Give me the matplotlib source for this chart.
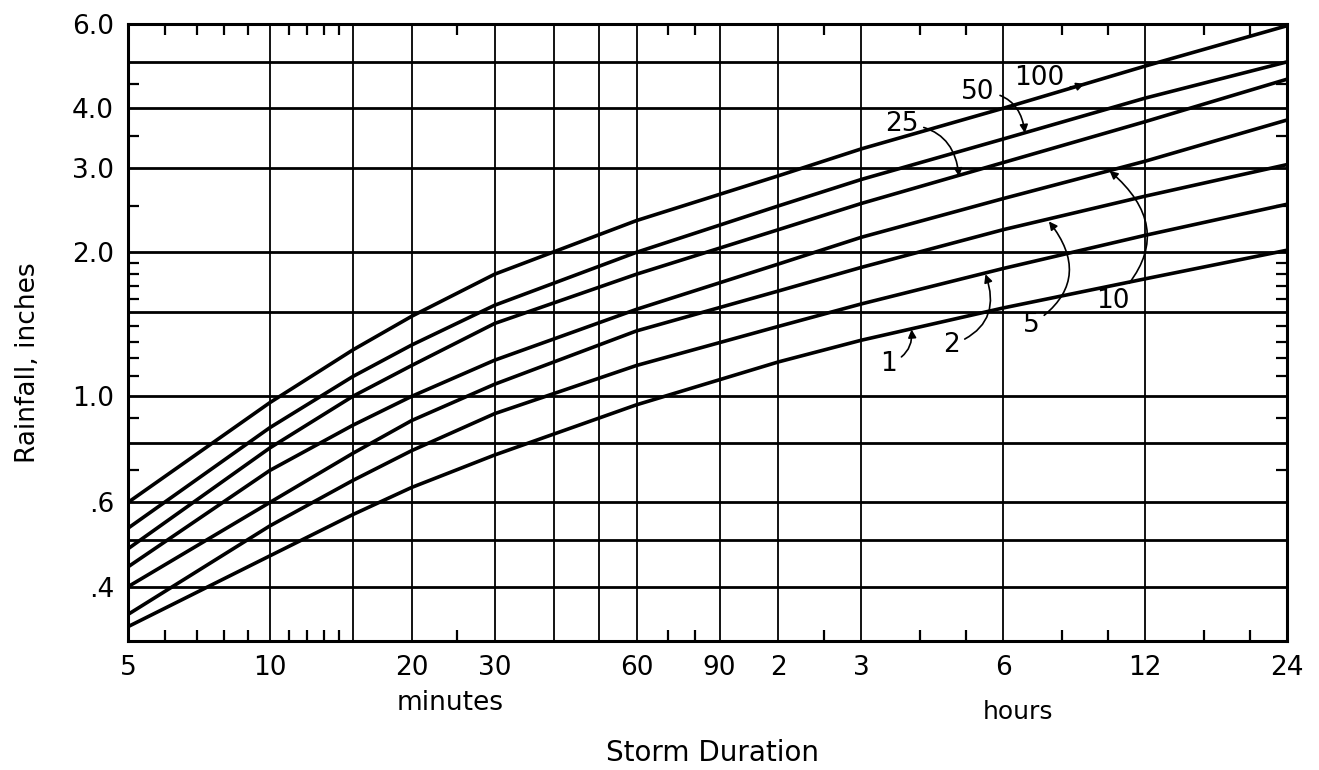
import matplotlib
matplotlib.use("Agg")
import matplotlib.pyplot as plt
from matplotlib.ticker import FixedLocator, NullFormatter

# storm duration, minutes
durations = [5, 10, 15, 20, 30, 60, 120, 180, 360, 720, 1440]

# rainfall depth (inches) for each return period (years)
rain_1yr = [0.33, 0.464, 0.566, 0.645, 0.754, 0.96, 1.18, 1.31, 1.53, 1.76, 2.02]
rain_2yr = [0.35, 0.536, 0.667, 0.77, 0.92, 1.16, 1.40, 1.56, 1.85, 2.17, 2.52]
rain_5yr = [0.40, 0.60, 0.76, 0.89, 1.06, 1.37, 1.66, 1.86, 2.23, 2.62, 3.05]
rain_10yr = [0.44, 0.70, 0.87, 1.00, 1.19, 1.52, 1.89, 2.15, 2.59, 3.10, 3.78]
rain_25yr = [0.48, 0.78, 1.00, 1.16, 1.42, 1.80, 2.23, 2.53, 3.08, 3.75, 4.60]
rain_50yr = [0.53, 0.86, 1.10, 1.28, 1.55, 2.00, 2.50, 2.84, 3.45, 4.20, 5.00]
rain_100yr = [0.60, 0.97, 1.25, 1.47, 1.80, 2.33, 2.89, 3.29, 4.00, 4.90, 5.95]

curves = [rain_1yr, rain_2yr, rain_5yr, rain_10yr, rain_25yr, rain_50yr, rain_100yr]

# grid / tick layout
x_grid = [5, 10, 15, 20, 30, 40, 50, 60, 90, 120, 180, 360, 720, 1440]
x_labels = ['5', '10', '', '20', '30', '', '', '60', '90', '2', '3', '6', '12', '24']
x_minor = [6, 7, 8, 9, 11, 12, 13, 14, 25, 70, 80, 150, 240, 300, 480, 600, 960, 1200]
y_grid = [0.4, 0.5, 0.6, 0.8, 1.0, 1.5, 2.0, 3.0, 4.0, 5.0, 6.0]
y_labels = ['.4', '', '.6', '', '1.0', '', '2.0', '3.0', '4.0', '', '6.0']
y_minor = [0.7, 0.9, 1.1, 1.2, 1.3, 1.4, 1.6, 1.7, 1.8, 1.9, 2.5, 3.5, 4.5]

# curve labels: text, text position, arrow target, arc
curve_labels = [
    ('100', (430, 4.62), (535, 4.50), 0.25),
    ('50', (318, 4.33), (400, 3.55), -0.45),
    ('25', (219, 3.70), (290, 2.88), -0.45),
    ('10', (615, 1.58), (605, 2.96), 0.55),
    ('5', (412, 1.41), (450, 2.32), 0.55),
    ('2', (279, 1.28), (330, 1.80), 0.5),
    ('1', (205, 1.17), (230, 1.38), 0.4),
]

W, H = 1319, 770
fig = plt.figure(figsize=(W / 100, H / 100), dpi=100)
ax = fig.add_axes([128 / W, 1 - 641 / H, 1159 / W, 617 / H])

for vals in curves:
    ax.plot(durations, vals, color='black', lw=2.6, solid_joinstyle='round')

ax.set_xscale('log')
ax.set_yscale('log')
ax.set_xlim(5, 1440)
ax.set_ylim(0.308, 6.0)

ax.xaxis.set_major_locator(FixedLocator(x_grid))
ax.set_xticklabels(x_labels)
ax.xaxis.set_minor_locator(FixedLocator(x_minor))
ax.xaxis.set_minor_formatter(NullFormatter())
ax.yaxis.set_major_locator(FixedLocator(y_grid))
ax.set_yticklabels(y_labels)
ax.yaxis.set_minor_locator(FixedLocator(y_minor))
ax.yaxis.set_minor_formatter(NullFormatter())

ax.xaxis.grid(True, which='major', color='black', lw=1.3)
ax.yaxis.grid(True, which='major', color='black', lw=2.0)

ax.tick_params(which='major', length=0, labelsize=19, pad=10)
ax.tick_params(which='minor', direction='in', length=8, width=1.6,
               top=True, bottom=True, left=True, right=True)
for s in ax.spines.values():
    s.set_linewidth(2.2)

for txt, pos, target, rad in curve_labels:
    ax.annotate(txt, xy=target, xytext=pos, fontsize=19, ha='center', va='center',
                arrowprops=dict(arrowstyle='-|>', color='black', lw=1.2,
                                mutation_scale=12, shrinkA=2, shrinkB=0,
                                connectionstyle=f'arc3,rad={rad}'))

fig.text(450 / W, 1 - 703 / H, 'minutes', fontsize=19, ha='center', va='center')
fig.text(1018 / W, 1 - 712 / H, 'hours', fontsize=18, ha='center', va='center')
fig.text(713 / W, 1 - 753 / H, 'Storm Duration', fontsize=20, ha='center', va='center')
fig.text(28 / W, 1 - 363 / H, 'Rainfall, inches', fontsize=19, rotation=90,
         ha='center', va='center')

fig.savefig('out.png', dpi=100)
